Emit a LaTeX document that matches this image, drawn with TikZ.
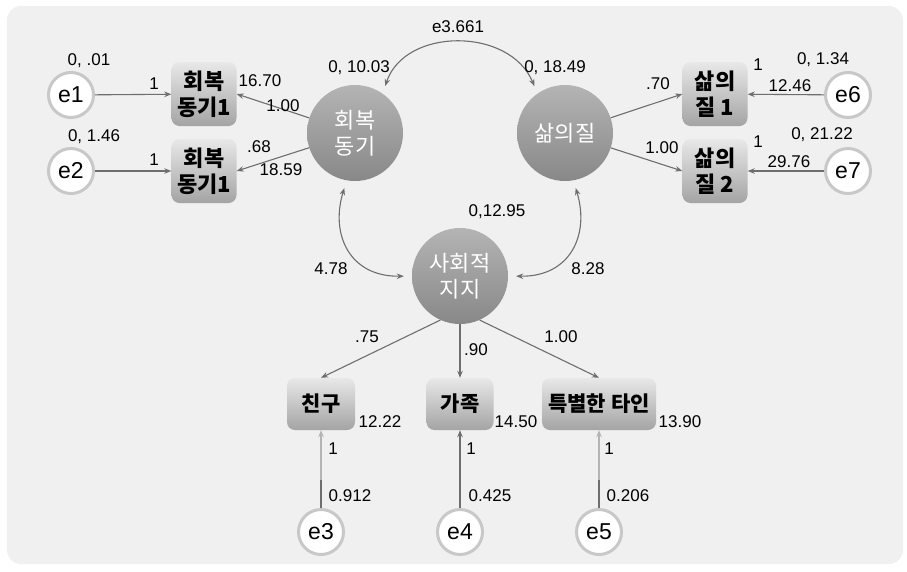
\documentclass[tikz,border=0pt]{standalone}
\usepackage{fontspec}
\setmainfont{Liberation Sans}
\newfontfamily\kr{Noto Sans CJK KR}
\usetikzlibrary{arrows.meta}
\definecolor{bgc}{HTML}{F0F0F0}
\definecolor{arrc}{HTML}{6E6E6E}
\definecolor{lightarr}{HTML}{B4B4B4}
\definecolor{ering}{HTML}{C8C8C8}
\definecolor{boxt}{HTML}{E8E8E8}
\definecolor{boxm}{HTML}{DADADA}
\definecolor{boxb}{HTML}{A4A4A4}
\definecolor{latt}{HTML}{B4B4B4}
\definecolor{latm}{HTML}{A8A8A8}
\definecolor{latb}{HTML}{888888}
\begin{document}
\begin{tikzpicture}[x=1pt,y=-1pt,
  arr/.style={draw=arrc,line width=1.1pt,-{Stealth[length=7pt,width=5.5pt]}},
  darr/.style={draw=arrc,line width=1.1pt,{Stealth[length=7pt,width=5.5pt]}-{Stealth[length=7pt,width=5.5pt]},shorten <=8pt,shorten >=8pt},
  enode/.style={circle,draw=ering,line width=3pt,fill=white,minimum size=45pt,inner sep=0pt,font=\fontsize{23}{23}\selectfont},
  lat/.style={circle,minimum size=96pt,inner sep=0pt,top color=latt,middle color=latm,bottom color=latb,text=white,align=center,font=\kr\fontsize{22}{26}\selectfont},
  obs/.style={rounded corners=8pt,top color=boxt,middle color=boxm,bottom color=boxb,minimum width=65pt,minimum height=64pt,inner sep=0pt,align=center,font=\kr\bfseries\fontsize{22}{26}\selectfont},
  num/.style={font=\fontsize{17}{17}\selectfont,inner sep=0pt}]
\useasboundingbox (0,0) rectangle (907,571);
\fill[bgc,rounded corners=14pt] (7,6) rectangle (903,564);
% latent variables
\node[lat] (hb) at (355,133) {회복\\동기};
\node[lat] (sq) at (565,133) {삶의질};
\node[lat] (sj) at (460,276) {사회적\\지지};
% observed
\node[obs] (b1) at (204,94) {회복\\동기1};
\node[obs] (b2) at (204,171) {회복\\동기1};
\node[obs] (q1) at (715,94) {삶의\\질 1};
\node[obs] (q2) at (715,171) {삶의\\질 2};
\node[obs,minimum width=68pt,minimum height=52pt,font=\kr\bfseries\fontsize{21}{25}\selectfont] (c1) at (321,404) {친구};
\node[obs,minimum width=67pt,minimum height=52pt,font=\kr\bfseries\fontsize{21}{25}\selectfont] (c2) at (460,404) {가족};
\node[obs,minimum width=114pt,minimum height=52pt,font=\kr\bfseries\fontsize{21}{25}\selectfont] (c3) at (599,404) {특별한 타인};
% errors
\node[enode] (e1) at (71,95) {e1};
\node[enode] (e2) at (71,171) {e2};
\node[enode] (e6) at (848,95) {e6};
\node[enode] (e7) at (848,171) {e7};
\node[enode] (e3) at (321,532) {e3};
\node[enode] (e4) at (460,532) {e4};
\node[enode] (e5) at (599,532) {e5};
% arrows
\draw[arr] (e1) -- (b1);
\draw[arr] (e2) -- (b2);
\draw[arr] (hb) -- (b1.east);
\draw[arr] (hb) -- (b2.east);
\draw[arr] (sq) -- (q1.west);
\draw[arr] (sq) -- (q2.west);
\draw[arr] (e6) -- (q1);
\draw[arr] (e7) -- (q2);
\draw[arr] (sj.246) -- (c1.north);
\draw[arr] (sj) -- (c2);
\draw[arr] (sj.294) -- (c3.north);
\draw[arr,draw=lightarr] (e3) -- (c1);
\draw[draw=arrc,line width=1.4pt] (e3.north) -- ++(0,-28);
\draw[arr] (e4) -- (c2);
\draw[arr,draw=lightarr] (e5) -- (c3);
\draw[draw=arrc,line width=1.4pt] (e5.north) -- ++(0,-28);
% covariances
\draw[darr] (hb.55) .. controls (405,27) and (510,27) .. (sq.125);
\draw[darr] (hb.260) .. controls (330,235) and (350,277) .. (sj.180);
\draw[darr] (sq.280) .. controls (590,235) and (570,277) .. (sj.0);
% labels
\node[num] (t1) at (89,61) {0, .01};
\node[num] (t2) at (154,84) {1};
\node[num] (t3) at (260,81) {16.70};
\node[num] (t4) at (283,106) {1.00};
\node[num] (t5) at (94,137) {0, 1.46};
\node[num] (t6) at (154,160) {1};
\node[num] (t7) at (259,147) {.68};
\node[num] (t8) at (281,170) {18.59};
\node[num] (t9) at (359,68) {0, 10.03};
\node[num] (t10) at (458,27) {e3.661};
\node[num] (t11) at (555,68) {0, 18.49};
\node[num] (t12) at (658,84) {.70};
\node[num] (t13) at (662,148) {1.00};
\node[num] (t14) at (758,65) {1};
\node[num] (t15) at (823,60) {0, 1.34};
\node[num] (t16) at (790,86) {12.46};
\node[num] (t17) at (758,142) {1};
\node[num] (t18) at (822,135) {0, 21.22};
\node[num] (t19) at (789,162) {29.76};
\node[num] (t20) at (497,212) {0,12.95};
\node[num] (t21) at (331,269) {4.78};
\node[num] (t22) at (588,269) {8.28};
\node[num] (t23) at (367,337) {.75};
\node[num] (t24) at (476,350) {.90};
\node[num] (t25) at (561,337) {1.00};
\node[num] (t26) at (380,422) {12.22};
\node[num] (t27) at (516,422) {14.50};
\node[num] (t28) at (680,422) {13.90};
\node[num] (t29) at (333,449) {1};
\node[num] (t30) at (471,449) {1};
\node[num] (t31) at (609,449) {1};
\node[num] (t32) at (350,496) {0.912};
\node[num] (t33) at (490,496) {0.425};
\node[num] (t34) at (628,496) {0.206};
\end{tikzpicture}
\end{document}
